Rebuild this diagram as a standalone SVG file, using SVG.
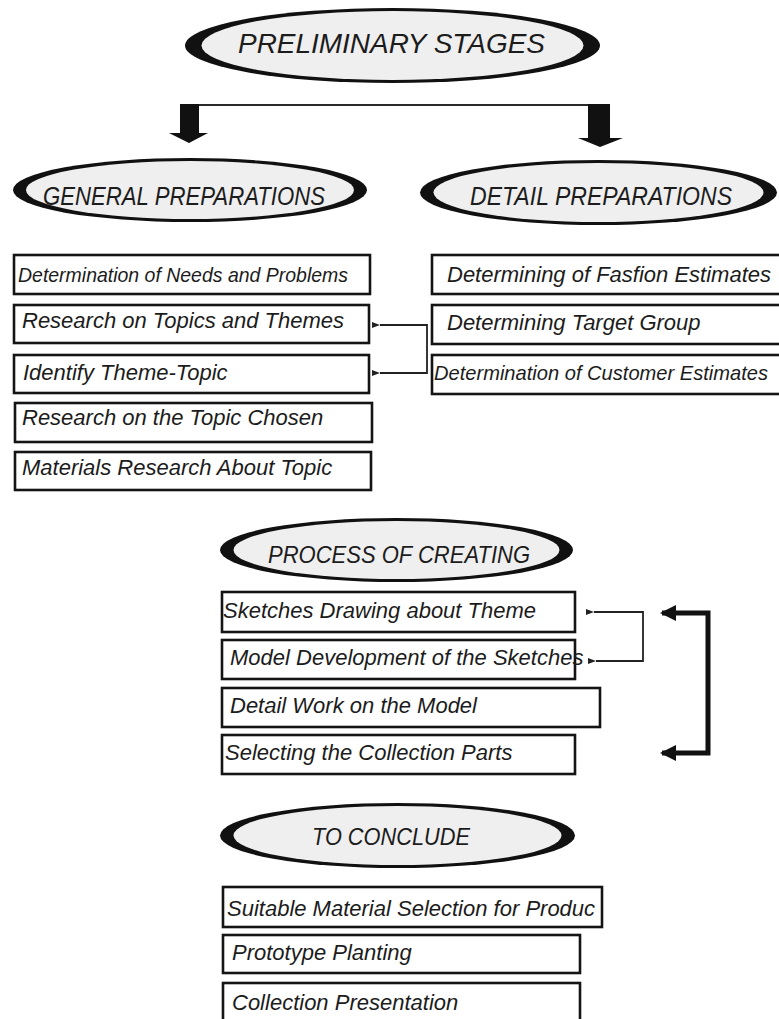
<svg xmlns="http://www.w3.org/2000/svg" width="779" height="1019" viewBox="0 0 779 1019">
  <style>
    .bg { fill: #ffffff; }
    .ring { fill: #111111; }
    .face { fill: #efefef; }
    .box { fill: #ffffff; stroke: #141414; stroke-width: 2.6; }
    .txt { font-family: "Liberation Sans", Arial, sans-serif; font-style: italic; fill: #1c1c1c; }
    .title { font-size: 28px; }
    .sub { font-size: 26px; }
    .item { font-size: 22px; }
    .narrow { font-size: 21px; }
    .thin { fill: none; stroke: #222222; stroke-width: 1.8; }
    .bold { fill: none; stroke: #111111; stroke-width: 5; }
    .blk { fill: #111111; }
  </style>
  <defs>
    <marker id="tipS" viewBox="0 0 8 6" refX="0" refY="3" markerWidth="8" markerHeight="6" markerUnits="userSpaceOnUse" orient="auto-start-reverse">
      <path d="M8,0 L0,3 L8,6 Z" fill="#222222"/>
    </marker>
    <marker id="tipB" viewBox="0 0 16 16" refX="14" refY="8" markerWidth="16" markerHeight="16" markerUnits="userSpaceOnUse" orient="auto-start-reverse">
      <path d="M0,0 L16,8 L0,16 Z" fill="#111111"/>
    </marker>
    <clipPath id="clipProd">
      <rect x="223" y="887" width="377" height="40"/>
    </clipPath>
  </defs>

  <rect class="bg" x="0" y="0" width="779" height="1019"/>

  <!-- Headings (ellipses) -->
  <g id="preliminary">
    <ellipse class="ring" cx="392.5" cy="45.5" rx="207.5" ry="37.5"/>
    <ellipse class="face" cx="392.5" cy="45.5" rx="191" ry="34.5"/>
    <text class="txt title" x="238" y="53" textLength="307" lengthAdjust="spacingAndGlyphs">PRELIMINARY STAGES</text>
  </g>

  <g id="general">
    <ellipse class="ring" cx="190" cy="190" rx="177" ry="32"/>
    <ellipse class="face" cx="190" cy="190" rx="164" ry="29"/>
    <text class="txt sub" x="43" y="205" textLength="282" lengthAdjust="spacingAndGlyphs">GENERAL PREPARATIONS</text>
  </g>

  <g id="detail">
    <ellipse class="ring" cx="598.5" cy="192.5" rx="178.5" ry="32.5"/>
    <ellipse class="face" cx="598.5" cy="192.5" rx="165" ry="29.5"/>
    <text class="txt sub" x="470" y="205" textLength="262" lengthAdjust="spacingAndGlyphs">DETAIL PREPARATIONS</text>
  </g>

  <g id="process">
    <ellipse class="ring" cx="396.5" cy="550" rx="176.5" ry="32"/>
    <ellipse class="face" cx="396.5" cy="550" rx="163" ry="29"/>
    <text class="txt" font-size="24" x="268" y="563" textLength="262" lengthAdjust="spacingAndGlyphs">PROCESS OF CREATING</text>
  </g>

  <g id="conclude">
    <ellipse class="ring" cx="397.5" cy="835.5" rx="177.5" ry="32.5"/>
    <ellipse class="face" cx="397.5" cy="835.5" rx="164" ry="29.5"/>
    <text class="txt" font-size="23" x="312" y="845" textLength="158" lengthAdjust="spacingAndGlyphs">TO CONCLUDE</text>
  </g>

  <!-- General preparation steps -->
  <g id="gen1">
    <rect class="box" x="14" y="255" width="356" height="39"/>
    <text class="txt narrow" x="18" y="282" textLength="330" lengthAdjust="spacingAndGlyphs">Determination of Needs and Problems</text>
  </g>
  <g id="gen2">
    <rect class="box" x="14" y="305" width="355" height="38"/>
    <text class="txt item" x="22" y="328">Research on Topics and Themes</text>
  </g>
  <g id="gen3">
    <rect class="box" x="14" y="355" width="355" height="38"/>
    <text class="txt item" x="23" y="380">Identify Theme-Topic</text>
  </g>
  <g id="gen4">
    <rect class="box" x="15" y="403" width="357" height="39"/>
    <text class="txt item" x="22" y="425">Research on the Topic Chosen</text>
  </g>
  <g id="gen5">
    <rect class="box" x="15" y="452" width="356" height="38"/>
    <text class="txt item" x="22" y="475">Materials Research About Topic</text>
  </g>

  <!-- Detail preparation steps -->
  <g id="det1">
    <rect class="box" x="432" y="255" width="360" height="39"/>
    <text class="txt item" x="447" y="282">Determining of Fasfion Estimates</text>
  </g>
  <g id="det2">
    <rect class="box" x="432" y="305" width="360" height="39"/>
    <text class="txt item" x="447" y="330">Determining Target Group</text>
  </g>
  <g id="det3">
    <rect class="box" x="432" y="355" width="360" height="39"/>
    <text class="txt narrow" x="434" y="380" textLength="334" lengthAdjust="spacingAndGlyphs">Determination of Customer Estimates</text>
  </g>

  <!-- Creation steps -->
  <g id="pro1">
    <rect class="box" x="222" y="592" width="353" height="40"/>
    <text class="txt item" x="223" y="618">Sketches Drawing about Theme</text>
  </g>
  <g id="pro2">
    <rect class="box" x="222" y="640" width="353" height="39"/>
    <text class="txt item" x="230" y="665">Model Development of the Sketches</text>
  </g>
  <g id="pro3">
    <rect class="box" x="222" y="688" width="378" height="39"/>
    <text class="txt item" x="230" y="713">Detail Work on the Model</text>
  </g>
  <g id="pro4">
    <rect class="box" x="222" y="735" width="353" height="39"/>
    <text class="txt item" x="225" y="760">Selecting the Collection Parts</text>
  </g>

  <!-- Closing steps -->
  <g id="con1">
    <rect class="box" x="223" y="887" width="379" height="40"/>
    <text class="txt item" x="227" y="916" clip-path="url(#clipProd)">Suitable Material Selection for Produc</text>
  </g>
  <g id="con2">
    <rect class="box" x="223" y="935" width="357" height="38"/>
    <text class="txt item" x="232" y="960">Prototype Planting</text>
  </g>
  <g id="con3">
    <rect class="box" x="223" y="983" width="357" height="42"/>
    <text class="txt item" x="232" y="1010">Collection Presentation</text>
  </g>

  <!-- Connectors -->
  <g id="connectors">
    <!-- split from the top heading into two block arrows -->
    <line x1="198" y1="105" x2="589" y2="105" stroke="#2a2a2a" stroke-width="2"/>
    <polygon class="blk" points="180,104 199,104 199,133 208,133 189,143 169,133 180,133"/>
    <polygon class="blk" points="588,104 610,104 610,138 623,138 600,147 578,138 588,138"/>

    <!-- theme loop on the general list -->
    <path class="thin" d="M380,325 H427 V373 H380" marker-start="url(#tipS)" marker-end="url(#tipS)"/>

    <!-- sketch loop -->
    <path class="thin" d="M594,612 H643 V661 H596" marker-start="url(#tipS)" marker-end="url(#tipS)"/>

    <!-- main feedback loop -->
    <path class="bold" d="M662,613 H708 V753 H662" marker-start="url(#tipB)" marker-end="url(#tipB)"/>
  </g>
</svg>
